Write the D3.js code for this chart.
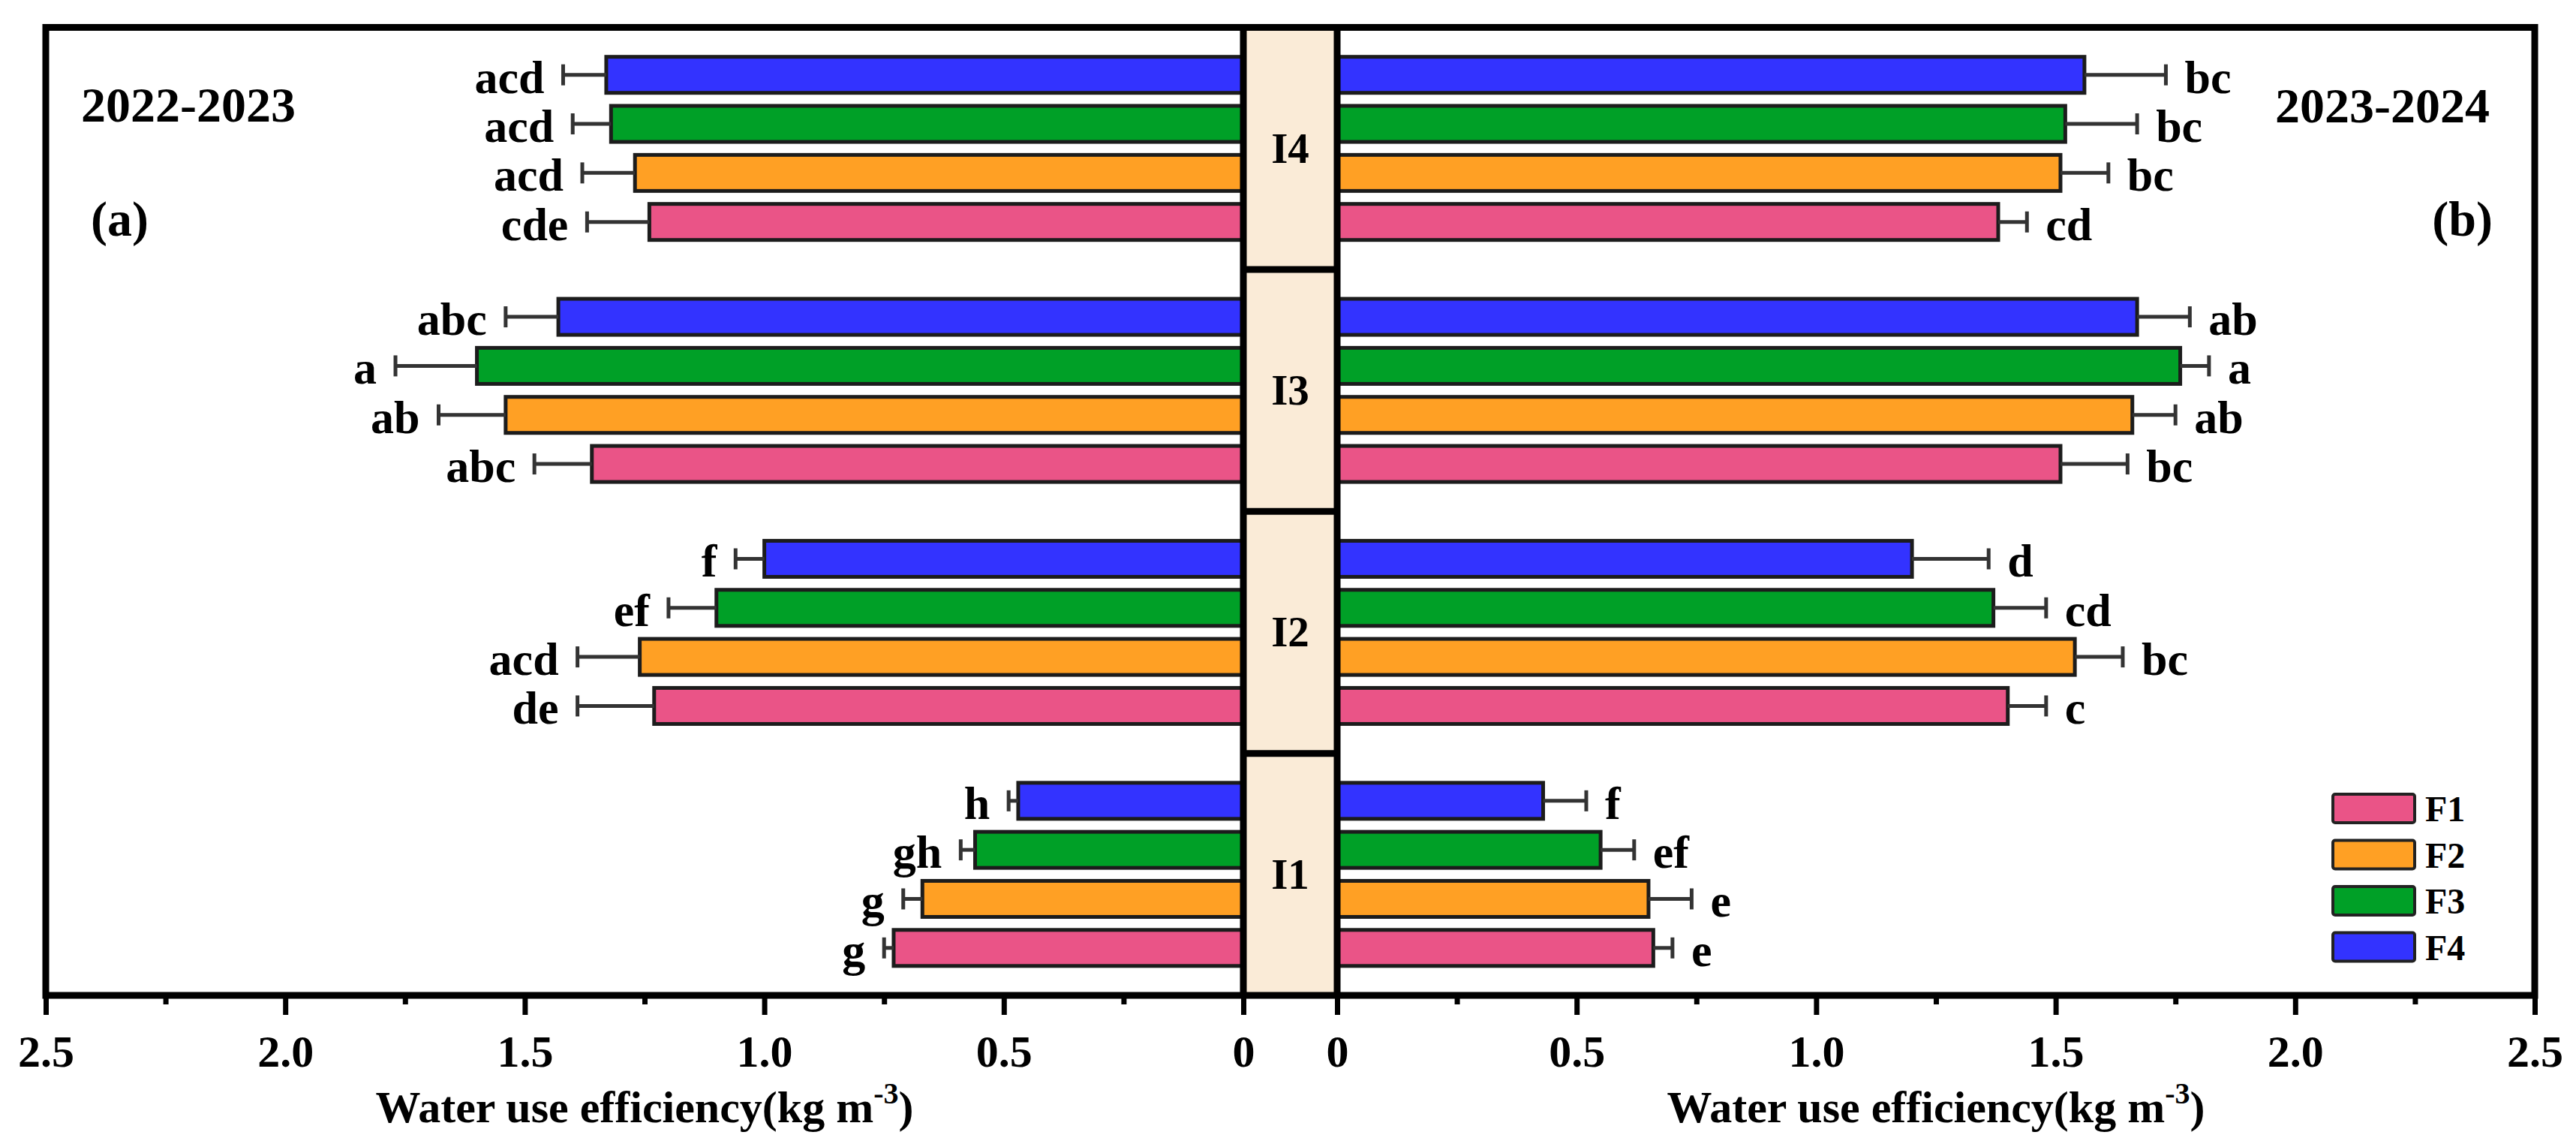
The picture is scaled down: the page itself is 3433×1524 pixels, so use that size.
<!DOCTYPE html>
<html>
<head>
<meta charset="utf-8">
<script src="https://cdn.jsdelivr.net/npm/d3@7"></script>
</head>
<body style="margin:0;background:#fff;">
<svg width="3433" height="1524" style="display:block;"></svg>
<script>
// irrigation levels (bottom to top) and fertilizer treatments
const levels = ['I1', 'I2', 'I3', 'I4'];
const treatments = ['F1', 'F2', 'F3', 'F4'];
const treatmentColors = ['#EA5487', '#FFA024', '#00A027', '#3333FF'];
const xTicks = [0, 0.5, 1.0, 1.5, 2.0, 2.5];
const xMinorTicks = [0.25, 0.75, 1.25, 1.75, 2.25];

// rows = I1..I4, columns = F1..F4
const wue2223 = [
	[0.73, 0.67, 0.56, 0.47],
	[1.23, 1.26, 1.10, 1.00],
	[1.36, 1.54, 1.60, 1.43],
	[1.24, 1.27, 1.32, 1.33]
];
const err2223 = [
	[0.02, 0.04, 0.03, 0.02],
	[0.16, 0.13, 0.10, 0.06],
	[0.12, 0.14, 0.17, 0.11],
	[0.13, 0.11, 0.08, 0.09]
];
const sig2223 = [
	['g', 'g', 'gh', 'h'],
	['de', 'acd', 'ef', 'f'],
	['abc', 'ab', 'a', 'abc'],
	['cde', 'acd', 'acd', 'acd']
];

const wue2324 = [
	[0.66, 0.65, 0.55, 0.43],
	[1.40, 1.54, 1.37, 1.20],
	[1.51, 1.66, 1.76, 1.67],
	[1.38, 1.51, 1.52, 1.56]
];
const err2324 = [
	[0.04, 0.09, 0.07, 0.09],
	[0.08, 0.10, 0.11, 0.16],
	[0.14, 0.09, 0.06, 0.11],
	[0.06, 0.10, 0.15, 0.17]
];
const sig2324 = [
	['e', 'e', 'ef', 'f'],
	['c', 'bc', 'cd', 'd'],
	['bc', 'ab', 'a', 'ab'],
	['cd', 'bc', 'bc', 'bc']
];

const svg = d3.select('svg');
const serif = '"Liberation Serif", "Times New Roman", serif';

// every label is bold Times-like text
const styleText = sel => sel
	.style('font-family', serif)
	.style('font-weight', 'bold')
	.style('fill', '#000');

const frame = {left: 61, right: 3378, top: 36.5, bottom: 1326};
const centerLeft = 1657;
const centerRight = 1782;

const xLeft = d3.scaleLinear().domain([0, 2.5]).range([centerLeft, frame.left]);
const xRight = d3.scaleLinear().domain([0, 2.5]).range([centerRight, frame.right]);

const yLevel = d3.scaleBand()
	.domain(levels.slice().reverse())
	.range([frame.top, frame.bottom]);

const yTreat = d3.scaleBand()
	.domain(treatments.slice().reverse())
	.range([0, yLevel.bandwidth()])
	.paddingInner(0.265)
	.paddingOuter(0.6);

const colorScale = d3.scaleOrdinal().domain(treatments).range(treatmentColors);

const toRows = (values, errors, letters) => {
	const rows = [];
	levels.forEach((lv, i) => {
		treatments.forEach((tr, j) => {
			rows.push({level: lv, treatment: tr, value: values[i][j], err: errors[i][j], sig: letters[i][j]});
		});
	});
	return rows;
};

const drawPanel = (xScale, rows, dir) => {
	const g = svg.append('g');
	const x0 = xScale(0);
	const yTop = d => yLevel(d.level) + yTreat(d.treatment);
	const yMid = d => yTop(d) + yTreat.bandwidth() / 2;

	g.selectAll('rect.bar').data(rows).join('rect')
		.attr('class', 'bar')
		.attr('x', d => Math.min(x0, xScale(d.value)))
		.attr('y', yTop)
		.attr('width', d => Math.abs(xScale(d.value) - x0))
		.attr('height', yTreat.bandwidth())
		.attr('fill', d => colorScale(d.treatment))
		.attr('stroke', '#1c1c1c')
		.attr('stroke-width', 5);

	g.selectAll('line.err').data(rows).join('line')
		.attr('class', 'err')
		.attr('x1', d => xScale(d.value))
		.attr('x2', d => xScale(d.value + d.err))
		.attr('y1', yMid)
		.attr('y2', yMid)
		.attr('stroke', '#333')
		.attr('stroke-width', 5);

	g.selectAll('line.cap').data(rows).join('line')
		.attr('class', 'cap')
		.attr('x1', d => xScale(d.value + d.err))
		.attr('x2', d => xScale(d.value + d.err))
		.attr('y1', d => yMid(d) - 14)
		.attr('y2', d => yMid(d) + 14)
		.attr('stroke', '#333')
		.attr('stroke-width', 5);

	g.selectAll('text.sig').data(rows).join('text')
		.attr('class', 'sig')
		.attr('x', d => xScale(d.value + d.err) + dir * 25)
		.attr('y', d => yMid(d) + 24)
		.attr('text-anchor', dir < 0 ? 'end' : 'start')
		.attr('font-size', 62)
		.text(d => d.sig)
		.call(styleText);
};

const drawAxis = (xScale, titleX) => {
	const fmt = d => d === 0 ? '0' : d3.format('.1f')(d);
	const axisG = svg.append('g')
		.attr('transform', `translate(0, ${frame.bottom})`)
		.call(d3.axisBottom(xScale).tickValues(xTicks).tickSize(26).tickSizeOuter(0).tickFormat(fmt));
	axisG.select('.domain').remove();
	axisG.selectAll('.tick line').attr('stroke', '#000').attr('stroke-width', 7);
	axisG.selectAll('.tick text')
		.attr('y', 95)
		.attr('dy', 0)
		.attr('font-size', 60)
		.call(styleText);

	const minorG = svg.append('g')
		.attr('transform', `translate(0, ${frame.bottom})`)
		.call(d3.axisBottom(xScale).tickValues(xMinorTicks).tickSize(12).tickSizeOuter(0).tickFormat(''));
	minorG.select('.domain').remove();
	minorG.selectAll('.tick line').attr('stroke', '#000').attr('stroke-width', 7);

	const title = svg.append('text')
		.attr('x', titleX)
		.attr('y', 1495)
		.attr('text-anchor', 'middle')
		.attr('font-size', 60)
		.call(styleText);
	title.append('tspan').text('Water use efficiency(kg m');
	title.append('tspan').attr('font-size', 40).attr('dy', -25).text('-3');
	title.append('tspan').attr('dy', 25).text(')');
};

// bars
drawPanel(xLeft, toRows(wue2223, err2223, sig2223), -1);
drawPanel(xRight, toRows(wue2324, err2324, sig2324), 1);

// center strip with irrigation labels
svg.append('rect')
	.attr('x', centerLeft)
	.attr('y', frame.top)
	.attr('width', centerRight - centerLeft)
	.attr('height', frame.bottom - frame.top)
	.attr('fill', '#FAEBD7');

svg.selectAll('line.divider').data(levels.slice(0, 3)).join('line')
	.attr('class', 'divider')
	.attr('x1', centerLeft)
	.attr('x2', centerRight)
	.attr('y1', d => yLevel(d))
	.attr('y2', d => yLevel(d))
	.attr('stroke', '#000')
	.attr('stroke-width', 9);

svg.selectAll('line.center').data([centerLeft, centerRight]).join('line')
	.attr('class', 'center')
	.attr('x1', d => d)
	.attr('x2', d => d)
	.attr('y1', frame.top)
	.attr('y2', frame.bottom)
	.attr('stroke', '#000')
	.attr('stroke-width', 9);

svg.selectAll('text.level').data(levels).join('text')
	.attr('class', 'level')
	.attr('x', (centerLeft + centerRight) / 2)
	.attr('y', d => yLevel(d) + yLevel.bandwidth() / 2 + 19)
	.attr('text-anchor', 'middle')
	.attr('font-size', 57)
	.text(d => d)
	.call(styleText);

// frame
svg.append('rect')
	.attr('x', frame.left)
	.attr('y', frame.top)
	.attr('width', frame.right - frame.left)
	.attr('height', frame.bottom - frame.top)
	.attr('fill', 'none')
	.attr('stroke', '#000')
	.attr('stroke-width', 9);

drawAxis(xLeft, (frame.left + centerLeft) / 2);
drawAxis(xRight, (centerRight + frame.right) / 2);

// panel labels
const panelLabel = (x, y, anchor, label) => svg.append('text')
	.attr('x', x).attr('y', y)
	.attr('text-anchor', anchor)
	.attr('font-size', 66)
	.text(label)
	.call(styleText);
panelLabel(108, 162, 'start', '2022-2023');
panelLabel(121, 314, 'start', '(a)');
panelLabel(3318, 163, 'end', '2023-2024');
panelLabel(3322, 314, 'end', '(b)');

// legend
const legend = svg.append('g').attr('transform', 'translate(3109, 1058)');
const legendItem = legend.selectAll('g').data(treatments).join('g')
	.attr('transform', (d, i) => `translate(0, ${i * 61.5})`);
legendItem.append('rect')
	.attr('width', 109)
	.attr('height', 38)
	.attr('rx', 3)
	.attr('fill', d => colorScale(d))
	.attr('stroke', '#222')
	.attr('stroke-width', 4);
legendItem.append('text')
	.attr('x', 123)
	.attr('y', 36)
	.attr('font-size', 48)
	.text(d => d)
	.call(styleText);
</script>
</body>
</html>
